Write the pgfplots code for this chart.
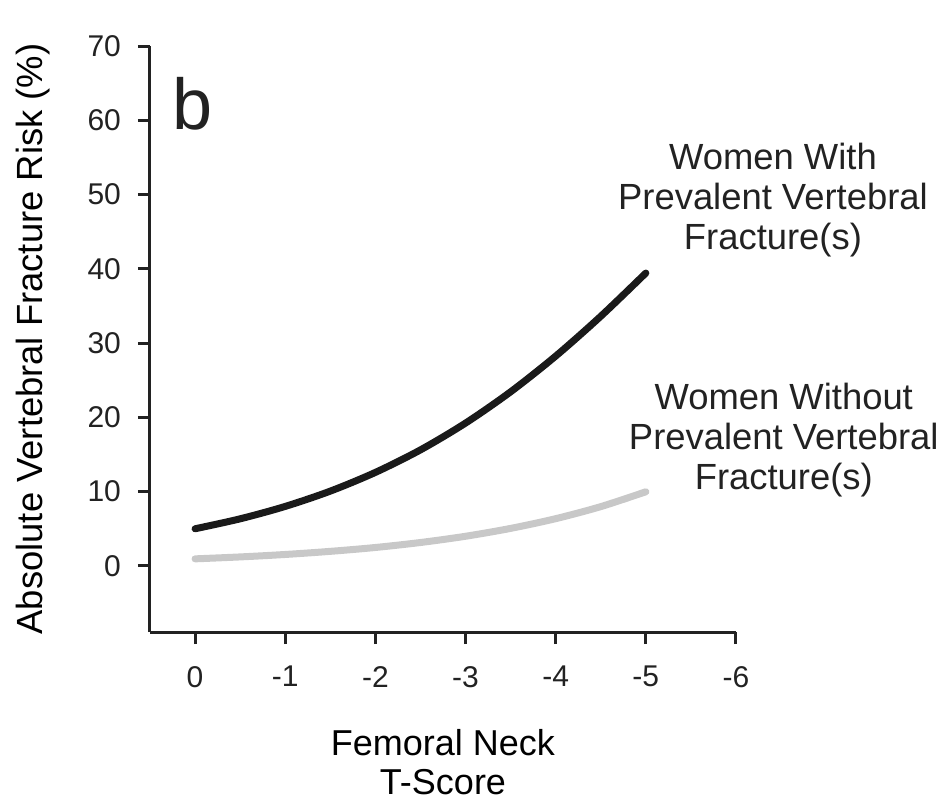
\documentclass[border=0pt]{standalone}
\usepackage{fontspec}
\setmainfont{Liberation Sans}
\usepackage{pgfplots}
\pgfplotsset{compat=1.18}
\definecolor{curveblack}{HTML}{1A1A1A}
\definecolor{curvegrey}{HTML}{C8C8C8}
\definecolor{axisink}{HTML}{222222}

\begin{document}
\begin{tikzpicture}
\begin{axis}[
  scale only axis, width=293pt, height=293pt,
  x dir=reverse,
  xmin=-6, xmax=0.5, ymin=-8.9, ymax=70,
  axis x line*=bottom, axis y line*=left,
  axis line style={line width=1.5pt, axisink, -},
  tick align=outside, major tick length=6pt,
  tick style={line width=1.5pt, axisink},
  xtick={0,-1,-2,-3,-4,-5,-6},
  xticklabels={0,-1,-2,-3,-4,-5,-6},
  ytick={0,10,20,30,40,50,60,70},
  yticklabels={0,10,20,30,40,50,60,70},
  ticklabel style={font=\fontsize{15}{18}\selectfont, text=axisink},
  xticklabel style={yshift=-7.5pt},
  yticklabel style={xshift=-5pt},
  xlabel={Femoral Neck\\T-Score},
  xlabel style={at={(axis description cs:0.5,-0.165)}, anchor=north,
    inner sep=0pt, align=center,
    font=\fontsize{18}{19.5}\selectfont},
  ylabel={Absolute Vertebral Fracture Risk (\%)},
  ylabel style={at={(axis description cs:-0.2,0.5)}, anchor=center,
    rotate=0, font=\fontsize{18.2}{20}\selectfont},
  clip=false,
]
% Women with prevalent vertebral fracture(s)
\addplot[curveblack, line width=3.5pt, line cap=round, smooth] coordinates {
  (0,5.00) (-0.5,6.34) (-1,8.01) (-1.5,10.07) (-2,12.59) (-2.5,15.62)
  (-3,19.23) (-3.5,23.44) (-4,28.25) (-4.5,33.61) (-5,39.43)
};
% Women without prevalent vertebral fracture(s)
\addplot[curvegrey, line width=3.5pt, line cap=round, smooth] coordinates {
  (0,0.95) (-0.5,1.21) (-1,1.54) (-1.5,1.96) (-2,2.48) (-2.5,3.15)
  (-3,3.99) (-3.5,5.05) (-4,6.36) (-4.5,7.98) (-5,9.98)
};
\node[font=\fontsize{18.2}{20}\selectfont, align=center, text=axisink]
  at (axis cs:-6.41,49.3) {Women With\\Prevalent Vertebral\\Fracture(s)};
\node[font=\fontsize{18.2}{20}\selectfont, align=center, text=axisink]
  at (axis cs:-6.53,17.0) {Women Without\\Prevalent Vertebral\\Fracture(s)};
\node[font=\fontsize{36}{40}\selectfont, anchor=base west, inner sep=0pt, text=axisink]
  at (axis cs:0.256,58.7) {b};
\end{axis}
\useasboundingbox (-75pt,-86pt) rectangle (400.5pt,316pt);
\end{tikzpicture}
\end{document}
